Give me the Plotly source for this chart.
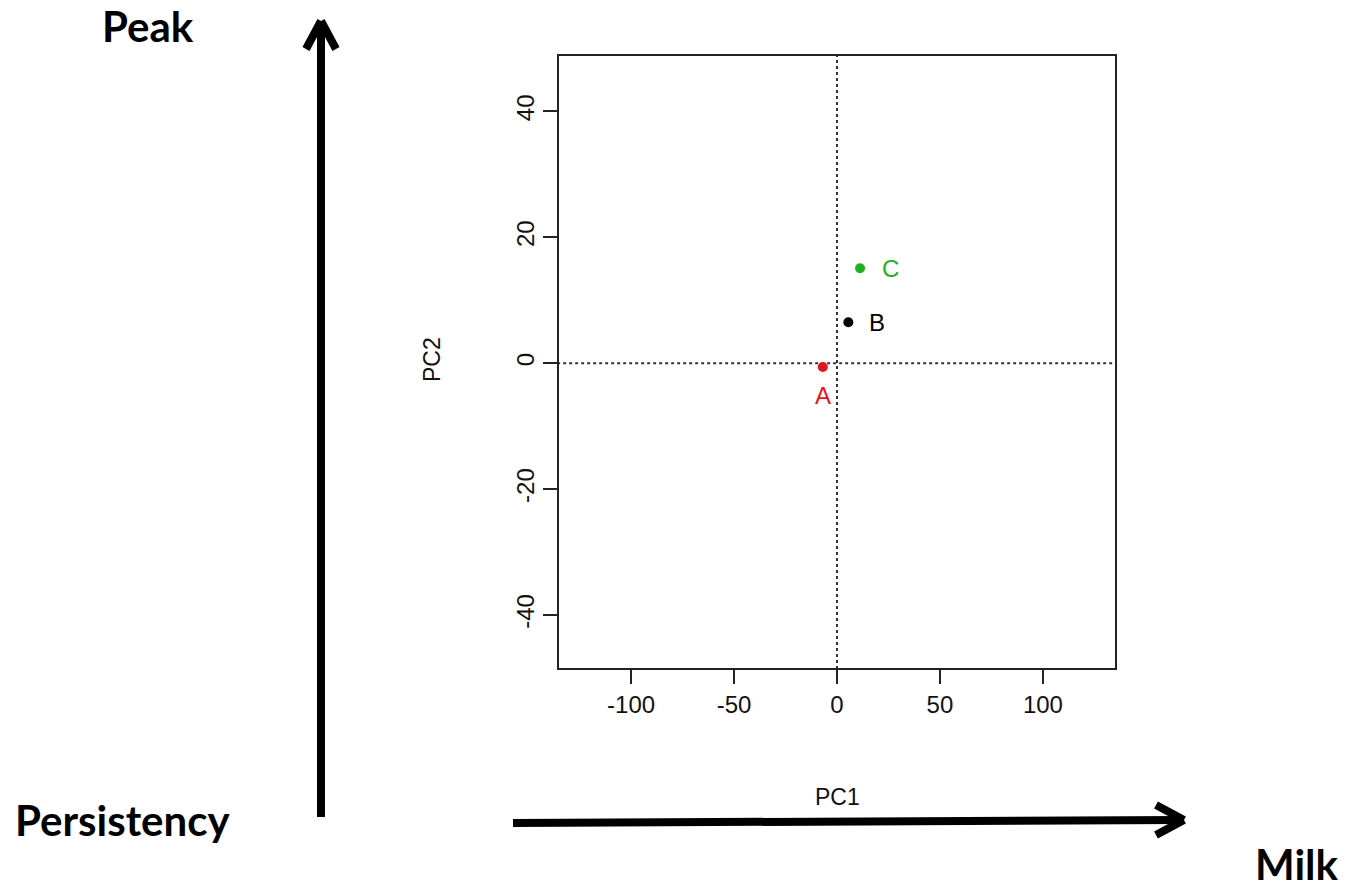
import plotly.graph_objects as go

# ---- data ----
labels = ["A", "B", "C"]
pc1 = [-6.9, 5.5, 11.2]
pc2 = [-0.6, 6.5, 15.1]
colors = ["#e3141c", "#000000", "#1fb01f"]
x_ticks = [-100, -50, 0, 50, 100]
x_ticktext = ["-100", "-50", "0", "50", "100"]
y_ticks = [-40, -20, 0, 20, 40]
y_ticktext = ["-40", "-20", "0", "20", "40"]

W, H = 1345, 892
L, R, T, B = 559, 1115, 56, 668


def px(x):
    return (x - L) / (R - L)


def py(y):
    return (B - y) / (B - T)


fig = go.Figure()

# dotted reference lines at 0
fig.add_trace(go.Scatter(x=[0, 0], y=[-60, 60], mode="lines",
                         line=dict(color="#333333", width=2, dash="dot"),
                         hoverinfo="skip", showlegend=False))
fig.add_trace(go.Scatter(x=[-200, 200], y=[0, 0], mode="lines",
                         line=dict(color="#333333", width=2, dash="dot"),
                         hoverinfo="skip", showlegend=False))

fig.add_trace(go.Scatter(x=pc1, y=pc2, mode="markers",
                         marker=dict(color=colors, size=10),
                         showlegend=False))

shifts = {"A": (0, -28), "B": (29, 0), "C": (30, 0)}
for lab, xv, yv, c in zip(labels, pc1, pc2, colors):
    dx, dy = shifts[lab]
    fig.add_annotation(x=xv, y=yv, text=lab, showarrow=False,
                       xshift=dx, yshift=dy, xanchor="center", yanchor="middle",
                       font=dict(family="Liberation Sans", size=24, color=c))

# axis titles
fig.add_annotation(xref="paper", yref="paper", x=px(837), y=py(797), text="PC1",
                   xanchor="center", yanchor="middle",
                   showarrow=False, font=dict(family="Liberation Sans", size=23, color="#111"))
fig.add_annotation(xref="paper", yref="paper", x=px(432), y=py(360), text="PC2",
                   xanchor="center", yanchor="middle",
                   textangle=-90, showarrow=False,
                   font=dict(family="Liberation Sans", size=23, color="#111"))

# big bold labels
bold = dict(family="Lato", size=42, color="black")
for txt, xx, yy in [("Peak", 148, 26), ("Persistency", 122, 820), ("Milk", 1297, 864)]:
    fig.add_annotation(xref="paper", yref="paper", x=px(xx), y=py(yy), text="<b>%s</b>" % txt,
                       xanchor="center", yanchor="middle", showarrow=False, font=bold)

# arrows
def line(x0, y0, x1, y1, w=8):
    fig.add_shape(type="line", xref="paper", yref="paper",
                  x0=px(x0), y0=py(y0), x1=px(x1), y1=py(y1),
                  line=dict(color="black", width=w), layer="above")

line(321, 817, 321, 24)
line(306, 49, 321, 21)
line(336, 49, 321, 21)
line(513, 823, 1180, 820)
line(1156, 805, 1184, 820)
line(1156, 835, 1184, 820)

axis_common = dict(showgrid=False, zeroline=False, showline=True, mirror=True,
                   linecolor="#222", linewidth=1.5, ticks="outside", ticklen=14,
                   tickwidth=1.5, tickcolor="#222",
                   tickfont=dict(family="Liberation Sans", size=24, color="#111"))

fig.update_xaxes(range=[-135, 135], tickvals=x_ticks, ticktext=x_ticktext, **axis_common)
fig.update_yaxes(range=[-48.4, 48.8], tickvals=y_ticks, ticktext=y_ticktext,
                 tickangle=-90, **axis_common)

fig.update_layout(width=W, height=H, plot_bgcolor="white", paper_bgcolor="white",
                  margin=dict(l=L, r=W - R, t=T, b=H - B), showlegend=False)

fig.write_html("out.html")
